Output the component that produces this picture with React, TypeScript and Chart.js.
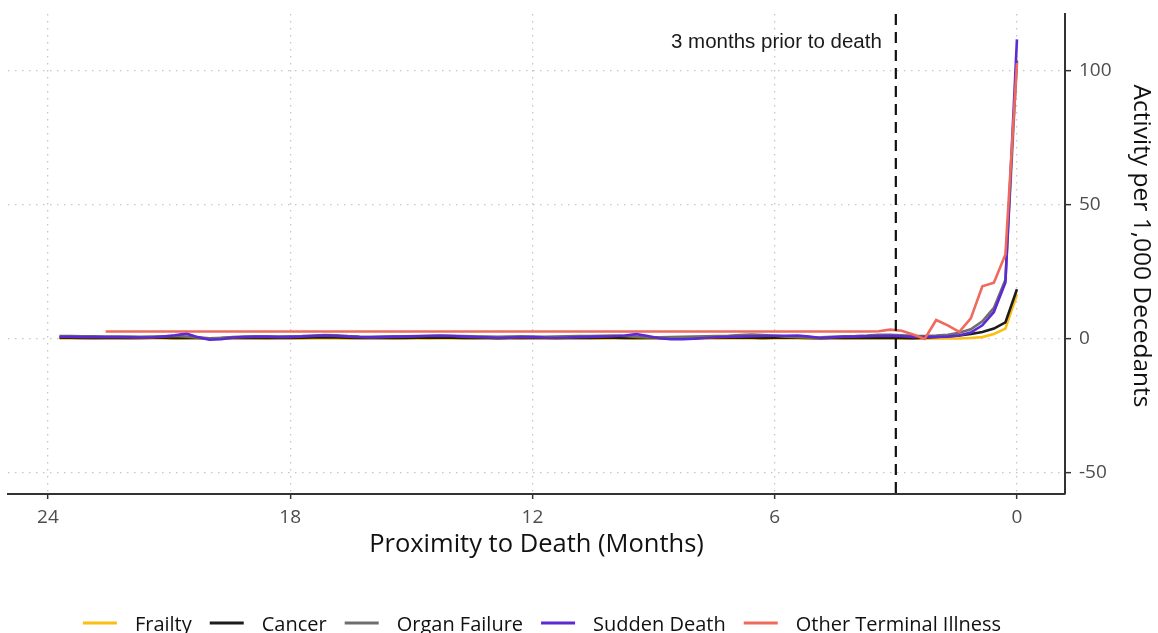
import React, { useEffect, useRef } from "react";
import { Chart, registerables } from "chart.js";

Chart.register(...registerables);

// ---------- data ----------
const SERIES_NAMES = ["Frailty", "Cancer", "Organ Failure", "Sudden Death", "Other Terminal Illness"];
const SERIES_COLORS = ["#FBBE12", "#1C1C1C", "#6E6E6E", "#5A2BD3", "#EF695C"];

const X_TICKS = [24, 18, 12, 6, 0];
const Y_TICKS = [-50, 0, 50, 100];
const X_TITLE = "Proximity to Death (Months)";
const Y_TITLE = "Activity per 1,000 Decedants";
const ANNOTATION_MONTHS = 3;
const ANNOTATION_LABEL = "3 months prior to death";
const ANNOTATION_Y = 110.7;

// one value per period, oldest (about 23.7 months before death) first, death last
const MONTHS_PER_STEP = 2 / 7;

const frailty = [
  0.1, 0.1, 0.1, 0.0, 0.1, 0.1, 0.0, 0.1, 0.1, 0.1, 0.0, 0.1,
  0.1, 0.1, 0.0, 0.1, 0.1, 0.1, 0.0, 0.1, 0.1, 0.0, 0.1, 0.1,
  0.1, 0.0, 0.1, 0.1, 0.1, 0.0, 0.1, 0.1, 0.0, 0.1, 0.1, 0.1,
  0.0, 0.1, 0.1, 0.1, 0.0, 0.1, 0.1, 0.0, 0.1, 0.1, 0.1, 0.0,
  0.1, 0.1, 0.0, 0.1, 0.1, 0.1, 0.0, 0.1, 0.1, 0.0, 0.1, 0.1,
  0.1, 0.0, 0.1, 0.1, 0.1, 0.0, 0.1, 0.1, 0.0, 0.1, 0.1, 0.1,
  0.1, 0.0, 0.1, 0.0, 0.1, 0.1, 0.1, 0.3, 0.6, 1.8, 3.8, 16.5,
];

const cancer = [
  0.4, 0.4, 0.3, 0.3, 0.3, 0.4, 0.3, 0.3, 0.4, 0.4, 0.3, 0.4,
  0.3, 0.2, 0.3, 0.4, 0.3, 0.3, 0.4, 0.3, 0.3, 0.4, 0.5, 0.6,
  0.5, 0.4, 0.3, 0.3, 0.4, 0.3, 0.3, 0.4, 0.4, 0.5, 0.4, 0.3,
  0.3, 0.3, 0.2, 0.3, 0.3, 0.4, 0.3, 0.3, 0.4, 0.3, 0.3, 0.4,
  0.4, 0.3, 0.3, 0.4, 0.3, 0.2, 0.3, 0.3, 0.4, 0.4, 0.5, 0.4,
  0.4, 0.3, 0.4, 0.5, 0.4, 0.3, 0.2, 0.3, 0.3, 0.4, 0.3, 0.4,
  0.3, 0.3, 0.2, 0.4, 0.7, 0.9, 1.2, 1.8, 2.5, 3.8, 6.1, 18.5,
];

const organFailure = [
  1.0, 1.0, 0.9, 0.9, 0.8, 0.8, 0.8, 0.7, 0.8, 0.9, 1.0, 0.8,
  0.4, 0.2, 0.3, 0.6, 0.8, 0.9, 0.9, 0.8, 0.9, 1.0, 1.2, 1.4,
  1.3, 1.0, 0.8, 0.7, 0.8, 0.9, 0.9, 1.0, 1.1, 1.2, 1.1, 1.0,
  0.9, 0.8, 0.7, 0.8, 0.9, 0.8, 0.7, 0.8, 0.9, 1.0, 1.0, 1.1,
  1.2, 1.0, 0.7, 0.5, 0.5, 0.6, 0.7, 0.8, 0.9, 1.0, 1.1, 1.4,
  1.6, 1.4, 1.1, 0.8, 0.6, 0.4, 0.5, 0.7, 0.9, 1.0, 1.2, 1.5,
  1.5, 1.3, 1.1, 1.0, 1.2, 1.5, 2.2, 3.5, 6.5, 11.5, 22.0, 104.0,
];

const suddenDeath = [
  0.7, 0.7, 0.6, 0.6, 0.6, 0.6, 0.5, 0.4, 0.4, 0.8, 1.3, 1.9,
  0.6, -0.4, -0.2, 0.4, 0.6, 0.7, 0.7, 0.6, 0.6, 0.8, 1.0, 1.2,
  1.0, 0.8, 0.6, 0.5, 0.6, 0.7, 0.8, 0.9, 1.0, 1.1, 1.0, 0.8,
  0.6, 0.5, 0.3, 0.4, 0.5, 0.6, 0.4, 0.3, 0.4, 0.6, 0.7, 0.8,
  0.9, 1.2, 1.7, 1.0, 0.2, -0.2, -0.2, 0.0, 0.3, 0.5, 0.7, 0.8,
  0.9, 1.0, 1.1, 1.1, 1.2, 0.8, 0.3, 0.5, 0.7, 0.8, 0.9, 1.0,
  1.1, 0.9, 0.7, 0.6, 0.7, 0.8, 1.2, 2.3, 5.0, 10.0, 21.0, 111.8,
];

const otherTerminal = [
  null, null, null, null, 2.7, 2.7, 2.7, 2.7, 2.7, 2.7, 2.7, 2.7,
  2.7, 2.7, 2.7, 2.7, 2.7, 2.7, 2.7, 2.7, 2.7, 2.7, 2.7, 2.7,
  2.7, 2.7, 2.7, 2.7, 2.7, 2.7, 2.7, 2.7, 2.7, 2.7, 2.7, 2.7,
  2.7, 2.7, 2.7, 2.7, 2.7, 2.7, 2.7, 2.7, 2.7, 2.7, 2.7, 2.7,
  2.7, 2.7, 2.7, 2.7, 2.7, 2.7, 2.7, 2.7, 2.7, 2.7, 2.7, 2.7,
  2.7, 2.7, 2.7, 2.7, 2.7, 2.7, 2.7, 2.7, 2.7, 2.7, 2.7, 2.8,
  3.4, 3.0, 1.6, -0.1, 7.0, 5.0, 2.6, 7.6, 19.6, 20.9, 31.5, 103.0,
];

const SERIES_VALUES: (number | null)[][] = [frailty, cancer, organFailure, suddenDeath, otherTerminal];

// ---------- style ----------
const SANS = '"Open Sans", "Noto Sans", sans-serif';
const W = 1158;
const H = 633;

const toPoints = (vals: (number | null)[]) =>
  vals.map((v, i) => ({ x: (vals.length - 1 - i) * MONTHS_PER_STEP, y: v }));

const overlayPlugin = {
  id: "overlay",
  afterDatasetsDraw(chart: any) {
    const { ctx, chartArea, scales } = chart;
    const x = scales.x.getPixelForValue(ANNOTATION_MONTHS);
    ctx.save();
    ctx.strokeStyle = "#111";
    ctx.lineWidth = 2.2;
    ctx.setLineDash([11, 7]);
    ctx.beginPath();
    ctx.moveTo(x, chartArea.top);
    ctx.lineTo(x, chartArea.bottom);
    ctx.stroke();
    ctx.setLineDash([]);
    ctx.fillStyle = "#1a1a1a";
    ctx.font = '20.5px "Liberation Sans", Arial, sans-serif';
    ctx.textAlign = "right";
    ctx.textBaseline = "middle";
    ctx.fillText(ANNOTATION_LABEL, x - 14, scales.y.getPixelForValue(ANNOTATION_Y));
    ctx.restore();
  },
  afterDraw(chart: any) {
    const { ctx } = chart;
    ctx.save();
    // y title (right, reading downward)
    ctx.translate(1141, 246);
    ctx.rotate(Math.PI / 2);
    ctx.font = `24.5px ${SANS}`;
    ctx.fillStyle = "#111";
    ctx.textAlign = "center";
    ctx.textBaseline = "middle";
    ctx.fillText(Y_TITLE, 0, 0);
    ctx.restore();

    // legend at bottom
    ctx.save();
    ctx.font = `20px ${SANS}`;
    const lineLen = 34;
    const gap = 18;
    const widths = SERIES_NAMES.map((n) => ctx.measureText(n).width);
    const total = widths.reduce((s, w) => s + lineLen + gap + w, 0) + gap * (SERIES_NAMES.length - 1);
    let x = 542 - total / 2;
    const yLine = 623;
    const yText = 631;
    ctx.textBaseline = "alphabetic";
    ctx.textAlign = "left";
    SERIES_NAMES.forEach((n, i) => {
      ctx.strokeStyle = SERIES_COLORS[i];
      ctx.lineWidth = 3;
      ctx.beginPath();
      ctx.moveTo(x, yLine);
      ctx.lineTo(x + lineLen, yLine);
      ctx.stroke();
      x += lineLen + gap;
      ctx.fillStyle = "#111";
      ctx.fillText(n, x, yText);
      x += widths[i] + gap;
    });
    ctx.restore();
  },
};

export default function App() {
  const ref = useRef<HTMLCanvasElement | null>(null);

  useEffect(() => {
    if (!ref.current) return;
    const chart = new Chart(ref.current, {
      type: "line",
      data: {
        datasets: SERIES_NAMES.map((name, i) => ({
          label: name,
          data: toPoints(SERIES_VALUES[i]) as any,
          borderColor: SERIES_COLORS[i],
          backgroundColor: SERIES_COLORS[i],
          borderWidth: 2.6,
          pointRadius: 0,
          tension: 0,
          fill: false,
          spanGaps: false,
          order: SERIES_NAMES.length - i,
        })),
      },
      options: {
        responsive: false,
        animation: false,
        devicePixelRatio: 1,
        layout: { padding: { left: 8, top: 14, right: 0, bottom: 0 } },
        plugins: { legend: { display: false }, tooltip: { enabled: false } },
        scales: {
          x: {
            type: "linear",
            position: "bottom",
            reverse: true,
            min: -1.19,
            max: 24.99,
            afterBuildTicks: (s: any) => {
              s.ticks = X_TICKS.map((v) => ({ value: v }));
            },
            afterFit: (s: any) => {
              s.height = 139;
              s.paddingLeft = 0;
              s.paddingRight = 0;
            },
            grid: {
              color: "#c6c6c6",
              lineWidth: 1.3,
              drawTicks: true,
              tickLength: 5,
              tickColor: "#333",
              tickWidth: 1.5,
            },
            border: { display: true, color: "#333", width: 2, dash: [1.5, 5.5] },
            ticks: {
              color: "#4d4d4d",
              font: { family: SANS, size: 19 },
              padding: 7,
              maxRotation: 0,
              callback: (v: any) => String(v),
            },
            title: {
              display: true,
              text: X_TITLE,
              color: "#111",
              font: { family: SANS, size: 25.5 },
              padding: { top: 0, bottom: 73 },
            },
          },
          y: {
            type: "linear",
            position: "right",
            min: -58,
            max: 121.3,
            afterBuildTicks: (s: any) => {
              s.ticks = Y_TICKS.map((v) => ({ value: v }));
            },
            afterFit: (s: any) => {
              s.width = 93;
              s.paddingTop = 0;
              s.paddingBottom = 0;
            },
            grid: {
              color: "#c6c6c6",
              lineWidth: 1.3,
              drawTicks: true,
              tickLength: 6,
              tickColor: "#333",
              tickWidth: 1.5,
            },
            border: { display: true, color: "#333", width: 2, dash: [1.5, 5.5] },
            ticks: {
              color: "#4d4d4d",
              font: { family: SANS, size: 19 },
              padding: 8,
              callback: (v: any) => String(v),
            },
            title: { display: false },
          },
        },
      },
      plugins: [overlayPlugin],
    });
    return () => chart.destroy();
  }, []);

  return (
    <div style={{ position: "fixed", left: 0, top: 0, width: W, height: H, background: "#fff" }}>
      <canvas ref={ref} width={W} height={H} style={{ display: "block" }} />
    </div>
  );
}
